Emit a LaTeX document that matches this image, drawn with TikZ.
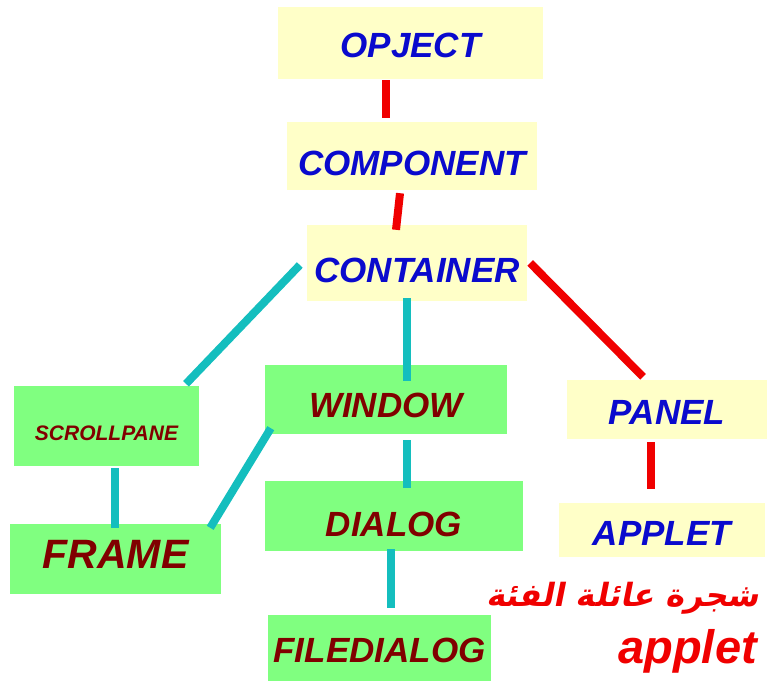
\documentclass[tikz,border=0pt]{standalone}
\usepackage{fontspec}
\setmainfont{Liberation Sans}
\newfontfamily\arabicfont[Script=Arabic,FakeSlant=0.2]{DejaVu Sans}
\TeXXeTstate=1
\usetikzlibrary{calc}

\definecolor{boxyellow}{RGB}{255,255,200}
\definecolor{boxgreen}{RGB}{128,255,128}
\definecolor{bluetext}{RGB}{10,10,205}
\definecolor{darkred}{RGB}{128,0,0}
\definecolor{tealline}{RGB}{20,190,190}
\definecolor{redline}{RGB}{240,0,0}

\tikzset{
  classbox/.style={fill=boxyellow, text=bluetext, inner sep=0pt,
    font=\fontsize{35}{40}\selectfont\bfseries\itshape},
  awtbox/.style={fill=boxgreen, text=darkred, inner sep=0pt,
    font=\fontsize{35}{40}\selectfont\bfseries\itshape},
  redlink/.style={draw=redline, line width=8pt},
  teallink/.style={draw=tealline, line width=8pt}
}

\begin{document}
\begin{tikzpicture}[x=1pt,y=-1pt]
\useasboundingbox (0,0) rectangle (767,693);

% yellow classes
\node[classbox, minimum width=265, minimum height=72, text height=29] (opject) at (410.5,43) {OPJECT};
\node[classbox, minimum width=250, minimum height=68, text height=39] (component) at (412,156) {COMPONENT};
\node[classbox, minimum width=220, minimum height=76, text height=39] (container) at (417,263) {CONTAINER};
\node[classbox, minimum width=200, minimum height=59, text height=30] (panel) at (667,409.5) {PANEL};
\node[classbox, minimum width=206, minimum height=54, text height=31] (applet) at (662,530) {APPLET};

% green classes
\node[awtbox, minimum width=185, minimum height=80, text height=29,
  font=\fontsize{21}{24}\selectfont\bfseries\itshape] (scrollpane) at (106.5,426) {SCROLLPANE};
\node[awtbox, minimum width=242, minimum height=69, text height=36] (window) at (386,399.5) {WINDOW};
\node[awtbox, minimum width=211, minimum height=70, text height=29, text depth=10,
  font=\fontsize{41}{46}\selectfont\bfseries\itshape] (frame) at (115.5,559) {FRAME};
\node[awtbox, minimum width=258, minimum height=70, text height=41] (dialog) at (394,516) {DIALOG};
\node[awtbox, minimum width=223, minimum height=66, text height=29] (filedialog) at (379.5,648) {FILEDIALOG};

% links
\draw[redlink] ($(opject.south)+(-24.5,1)$) -- ($(component.north)+(-26,-4)$);
\draw[redlink] ($(component.south)+(-12,3)$) -- ($(container.north)+(-21,5)$);
\draw[redlink] ($(container.east)+(3,0)$) -- ($(panel.north)+(-24,-3)$);
\draw[redlink] ($(panel.south)+(-16,3)$) -- ($(applet.north)+(-11,-14)$);
\draw[teallink] ($(container.west)+(-7,2)$) -- ($(scrollpane.north)+(79.5,-2)$);
\draw[teallink] ($(container.south)+(-10,-3)$) -- ($(window.north)+(21,16)$);
\draw[teallink] ($(window.south west)+(6,-6)$) -- ($(frame.north east)+(-11,4)$);
\draw[teallink] ($(window.south)+(21,6)$) -- ($(dialog.north)+(13,7)$);
\draw[teallink] ($(scrollpane.south)+(8.5,2)$) -- ($(frame.north)+(-0.5,4)$);
\draw[teallink] ($(dialog.south)+(-3,-2)$) -- ($(filedialog.north)+(11.5,-7)$);

% title
\node[text=redline, anchor=east, inner sep=0pt,
  font=\fontsize{32}{36}\selectfont\bfseries] (titlear) at (759,598)
  {\arabicfont\beginR شجرة عائلة الفئة\endR};
\node[text=redline, anchor=east, inner sep=0pt,
  font=\fontsize{47}{52}\selectfont\bfseries\itshape] (titlelat) at (757,651) {applet};
\end{tikzpicture}
\end{document}
